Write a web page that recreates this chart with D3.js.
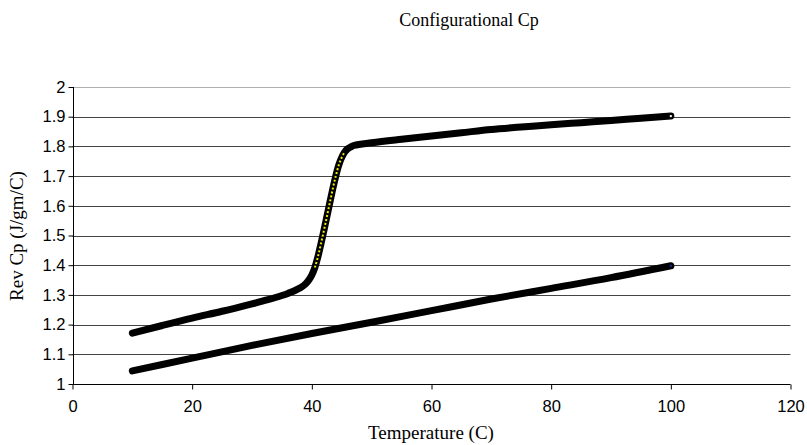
<!DOCTYPE html>
<html><head><meta charset="utf-8">
<script src="https://cdn.jsdelivr.net/npm/d3@7"></script>
<style>body{margin:0;background:#fff}svg{display:block}</style>
</head><body>
<svg id="c" width="807" height="445"></svg>
<script>
const title = "Configurational Cp";
const xLabel = "Temperature (C)";
const yLabel = "Rev Cp (J/gm/C)";
const xTicks = [0, 20, 40, 60, 80, 100, 120];
const yTicks = [1, 1.1, 1.2, 1.3, 1.4, 1.5, 1.6, 1.7, 1.8, 1.9, 2];

// Upper series (with glass transition)
const tempUpper = [10, 15, 20, 25, 30, 32.5, 35, 36, 37, 38, 39, 39.5, 40, 40.5, 41, 41.5, 42, 42.5, 43, 43.5, 44, 44.5, 45, 45.5, 46, 46.5, 47, 50, 55, 60, 65, 70, 75, 80, 85, 90, 95, 100];
const cpUpper   = [1.171, 1.197, 1.222, 1.245, 1.270, 1.283, 1.298, 1.305, 1.313, 1.323, 1.338, 1.350, 1.367, 1.392, 1.427, 1.470, 1.515, 1.562, 1.610, 1.657, 1.700, 1.737, 1.763, 1.781, 1.792, 1.798, 1.803, 1.812, 1.824, 1.835, 1.846, 1.857, 1.865, 1.873, 1.880, 1.887, 1.895, 1.902];

// Lower series
const tempLower = [10, 20, 30, 40, 50, 60, 70, 80, 90, 100];
const cpLower   = [1.044, 1.087, 1.130, 1.170, 1.208, 1.247, 1.286, 1.322, 1.358, 1.398];

const svg = d3.select("#c");
const m = {l: 72.5, r: 790.5, t: 87, b: 384};
const x = d3.scaleLinear().domain([0, 120]).range([m.l, m.r]);
const y = d3.scaleLinear().domain([1, 2]).range([m.b, m.t]);

const sans = "Liberation Sans, Arial, sans-serif";
const serif = "Liberation Serif, Times New Roman, serif";

// gridlines
svg.append("g").selectAll("line").data(yTicks.filter(d => d > 1)).join("line")
  .attr("x1", m.l).attr("x2", m.r)
  .attr("y1", d => Math.round(y(d)) + 0.5).attr("y2", d => Math.round(y(d)) + 0.5)
  .attr("stroke", d => d === 2 ? "#b0b0b0" : "#444").attr("stroke-width", 1);

// axes
const xAxis = d3.axisBottom(x).tickValues(xTicks).tickSize(5).tickPadding(11).tickFormat(d3.format("d"));
const gx = svg.append("g").attr("transform", `translate(0,${Math.round(m.b) + 0.5})`).call(xAxis);
gx.select(".domain").attr("stroke", "#000").attr("d", `M${m.l},0H${m.r}`);
gx.selectAll(".tick line").attr("stroke", "#000");
gx.selectAll("text").attr("font-family", sans).attr("font-size", 16.5).attr("fill", "#000");

const yAxis = d3.axisLeft(y).tickValues(yTicks).tickSize(5).tickPadding(3).tickFormat(d => String(+d.toFixed(1)));
const gy = svg.append("g").attr("transform", `translate(${Math.round(m.l) + 0.5},0)`).call(yAxis);
gy.select(".domain").attr("stroke", "#000").attr("d", `M0,${m.t}V${m.b}`);
gy.selectAll(".tick line").attr("stroke", "#000");
gy.selectAll("text").attr("font-family", sans).attr("font-size", 16.5).attr("fill", "#000");

// series
const line = d3.line().x(d => x(d[0])).y(d => y(d[1])).curve(d3.curveMonotoneX);
const upper = tempUpper.map((t, i) => [t, cpUpper[i]]);
const lower = tempLower.map((t, i) => [t, cpLower[i]]);

[upper, lower].forEach(s => {
  svg.append("path").datum(s).attr("d", line)
    .attr("fill", "none").attr("stroke", "#000").attr("stroke-width", 7)
    .attr("stroke-linecap", "round").attr("stroke-linejoin", "round");
});

// yellow marker centres visible in the steep part of the transition
const steep = upper.filter(d => d[1] > 1.38 && d[1] < 1.79);
svg.append("path").datum(steep).attr("d", line)
  .attr("fill", "none").attr("stroke", "#f2ea00").attr("stroke-width", 2)
  .attr("stroke-dasharray", "2,2");

// end markers
svg.append("rect").attr("x", x(100) - 1).attr("y", y(cpUpper[cpUpper.length - 1]) - 1).attr("width", 2).attr("height", 2).attr("fill", "#fff");
svg.append("rect").attr("x", x(100) - 1).attr("y", y(cpLower[cpLower.length - 1]) - 1).attr("width", 2).attr("height", 2).attr("fill", "#1a2aa0");

// titles
svg.append("text").attr("x", 469).attr("y", 26).attr("text-anchor", "middle")
  .attr("font-family", serif).attr("font-size", 18).text(title);
svg.append("text").attr("x", 431).attr("y", 439).attr("text-anchor", "middle")
  .attr("font-family", serif).attr("font-size", 19).text(xLabel);
svg.append("text").attr("transform", "translate(23,236) rotate(-90)").attr("text-anchor", "middle")
  .attr("font-family", serif).attr("font-size", 19).text(yLabel);
</script>
</body></html>
